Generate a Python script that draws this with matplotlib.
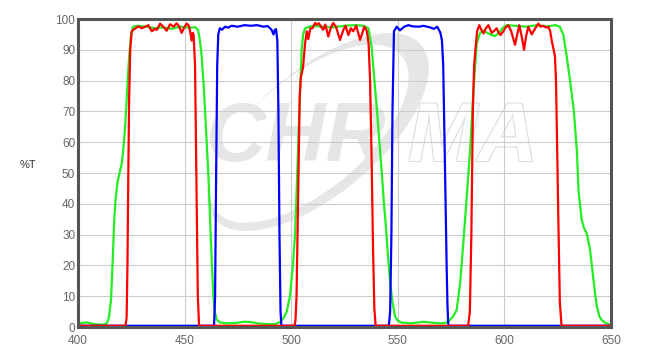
import numpy as np
import matplotlib
matplotlib.use("Agg")
import matplotlib.pyplot as plt
import matplotlib.patheffects as pe

# filter curves: wavelength (nm), transmission (%)
green_wl = [400, 402, 404, 407, 410, 412, 413.5, 414.5, 415.5, 416.3, 417, 417.7, 418.5, 419.5,
            420.5, 421.3, 422, 422.7, 423.3, 424, 424.9, 425.8, 428, 432, 436, 440, 444, 448,
            452, 455, 456.3, 457.2, 458, 459, 459.6, 460.4, 461.1, 461.7, 462.2, 462.9, 463.5,
            464.2, 465, 466.5, 470, 474, 478, 481, 485, 490, 493, 495, 496.5, 497.9, 499.4,
            500.8, 501.8, 502.6, 503.2, 503.8, 504.4, 504.9, 505.6, 506.5, 510, 515, 520, 525,
            530, 534, 536.2, 537.7, 539.3, 540.5, 541.6, 542.5, 543.5, 544.5, 545.5, 546.5,
            547.5, 548.7, 550, 552, 556, 560, 562, 566, 570, 572.1, 574, 576, 577.6, 579.2,
            580.7, 582.3, 583.9, 585.4, 587, 588.6, 590, 592, 594, 595.6, 597.5, 599, 601, 605,
            610, 615, 620, 624, 626, 627.6, 629.2, 630.8, 632.6, 634, 634.8, 636.2, 637.4,
            638.6, 640.2, 641.7, 642.5, 643.3, 644.5, 645.6, 647, 648, 650]
green_t = [1.0, 1.3, 1.5, 1.0, 0.8, 0.8, 1.2, 3, 9, 22, 35, 42, 47, 50,
           53, 58, 64, 72, 80, 88, 95, 97.5, 97.8, 97.5, 97, 97.3, 96.8, 97.5,
           97.2, 97.3, 96.5, 93, 88, 78, 70, 60, 50, 40, 30, 19, 10,
           5, 2.5, 1.5, 1.2, 1.3, 1.7, 1.6, 1.1, 0.9, 1.0, 1.8, 3, 5, 10,
           20, 30, 45, 58, 70, 80, 90, 95, 97, 97.8, 97.5, 97.3, 97.8,
           98, 97.8, 97, 91, 78, 68, 58, 50, 40, 32, 22, 14,
           8, 3.5, 2, 1.4, 1.2, 1.5, 1.7, 1.4, 1.2, 1.3, 2, 3.5, 5.5, 14,
           27, 42, 57, 76, 92, 95.5, 96.2, 95.5, 94.8, 94.5, 95.5, 97, 98, 97.8,
           97.5, 98, 97.6, 98, 97.5, 95, 88, 80, 70, 57, 44, 35, 32,
           30.5, 25, 16, 11, 7, 3.5, 2.3, 1.5, 1.2, 0.6]

red_wl = [400, 422.3, 422.8, 423.2, 423.6, 424, 424.5, 425.2, 426, 427, 428.3, 430, 431.5, 433,
          434.6, 436.1, 437, 438.5, 440, 441.6, 443.2, 444.8, 446.3, 447.5, 448.6, 450, 451,
          452, 452.6, 453.3, 453.8, 454.2, 454.9, 455.5, 456.2, 456.8,
          501.5, 502, 502.5, 503.2, 504, 504.5, 505.5, 506.5, 507.3, 508, 509, 510, 511.2,
          512, 513, 514, 515, 516, 517.4, 518.5, 519.7, 521, 522.9, 524.5, 525.5, 526.8,
          528, 529.1, 530.5, 532.3, 534.3, 535.5, 536.3, 537, 537.7, 538.4, 539, 539.6,
          583, 583.8, 584.5, 585.2, 585.8, 586.4, 587.2, 588.2, 589, 590.2, 591.3, 592.5,
          594, 595.3, 596.4, 597.3, 598.2, 599.5, 600.5, 601.8, 603.2, 605, 606, 607, 608.2,
          609.2, 610.2, 611.2, 612.8, 614.5, 615.9, 617, 618.2, 619.5, 620.6, 621.5, 622.2,
          623.7, 624.2, 624.7, 625.3, 626, 626.8, 650]
red_t = [0.4, 0.4, 3, 20, 50, 75, 90, 96, 96.5, 97, 97.6, 97, 97.5, 98,
         96, 96.8, 96.5, 98.5, 97.5, 96.2, 98.3, 97.5, 98.6, 97.5, 95.5, 97.5, 98.5,
         97.8, 96, 93, 95.5, 95, 85, 50, 10, 0.4,
         0.4, 2, 10, 40, 75, 81, 84, 92, 96, 93.5, 97, 97, 98.7,
         98.2, 98.6, 97.5, 96.5, 98.2, 94.3, 97, 98.7, 97.5, 93.2, 96.5, 97.8, 94.8,
         97, 96, 97.8, 93.2, 97.5, 96, 92, 80, 55, 25, 6, 0.4,
         0.4, 5, 30, 70, 85, 90, 96, 98, 96.8, 95.3, 97, 98,
         95.5, 96.2, 97, 95.5, 94.8, 96, 97.2, 98, 96, 91.6, 95, 98, 94,
         90, 94.5, 97.5, 95, 97, 98.5, 97.5, 97.8, 97.2, 97.5, 96, 93,
         88, 80, 60, 35, 8, 0.4, 0.4]

blue_wl = [400, 463.8, 464.3, 464.8, 465.3, 465.8, 466.5, 467.5, 469, 470.5, 472, 475, 478, 481,
           484, 487, 489, 490.8, 491.7, 492.4, 492.9, 493.5, 494, 494.5, 495, 495.4,
           545.8, 546.4, 547, 547.5, 548.2, 549.5, 551, 553, 555, 557, 560, 562, 565, 567,
           568.5, 570, 570.7, 571.3, 571.8, 572.3, 572.9, 573.3, 573.7, 650]
blue_t = [0.4, 0.4, 10, 50, 85, 95, 97, 96.5, 97.5, 97.2, 97.8, 97.5, 98, 97.8,
          98, 97.5, 97.7, 96.5, 95, 96.5, 96.7, 93, 70, 30, 5, 0.4,
          0.4, 5, 30, 70, 96, 97.5, 96.3, 97.5, 98, 97.6, 97.5, 97.8, 97.3, 96.8,
          97.5, 95.5, 93, 85, 65, 45, 20, 7, 0.4, 0.4]

x_ticks = [400, 450, 500, 550, 600, 650]
y_ticks = list(range(0, 101, 10))

W, H = 652, 354
fig = plt.figure(figsize=(W / 100, H / 100), dpi=100)

# watermark drawn in pixel space behind the plot
bg = fig.add_axes([0, 0, 1, 1])
bg.set_xlim(0, W)
bg.set_ylim(0, H)
bg.axis("off")
wm = "#e6e6e6"
t = np.linspace(0, 2 * np.pi, 400)
ang = np.deg2rad(40)
ux, uy = np.cos(ang), np.sin(ang)      # along the long axis
nx, ny = -np.sin(ang), np.cos(ang)     # towards upper left
def ell(cx, cy, a, b):
    ex, ey = a * np.cos(t), b * np.sin(t)
    return cx + ex * ux + ey * nx, cy + ex * uy + ey * ny
ox, oy = ell(318, 222, 135, 62)
ix, iy = ell(318 - 8 * ux + 4.5 * nx, 222 - 8 * uy + 4.5 * ny, 121, 56.5)
bg.fill(np.concatenate([ox, ix[::-1]]), np.concatenate([oy, iy[::-1]]), color=wm, lw=0)
bg.text(206, 193, "CHR", fontsize=60, fontweight="bold", fontstyle="italic",
        family="Liberation Sans", color=wm, va="baseline")
bg.text(408, 193, "MA", fontsize=60, fontweight="bold", fontstyle="italic",
        family="Liberation Sans", color="white", va="baseline",
        path_effects=[pe.withStroke(linewidth=1.6, foreground="#dddddd")])

ax = fig.add_axes([78 / W, 27 / H, 533 / W, 308 / H])
ax.set_facecolor("none")
ax.plot(green_wl, green_t, color="#22ee22", lw=1.6)
ax.plot(blue_wl, blue_t, color="#0000ff", lw=1.6)
ax.plot(red_wl, red_t, color="#ff0000", lw=1.6)

ax.set_xlim(400, 650)
ax.set_ylim(0, 100)
ax.set_xticks(x_ticks)
ax.set_yticks(y_ticks)
ax.set_axisbelow(True)
ax.grid(True, color="#cccccc", lw=0.8)
for s in ax.spines.values():
    s.set_color("#555555")
    s.set_linewidth(2.2)
ax.tick_params(axis="both", length=0, labelsize=8.5, labelcolor="#666666")
ax.tick_params(axis="x", pad=6)
ax.tick_params(axis="y", pad=2)
for lab in ax.get_xticklabels() + ax.get_yticklabels():
    lab.set_family("Liberation Sans")
ax.set_ylabel("%T", rotation=0, fontsize=8, color="#333333", family="Liberation Sans")
ax.yaxis.set_label_coords(-0.094, 0.51)

fig.savefig("out.png", dpi=100)
